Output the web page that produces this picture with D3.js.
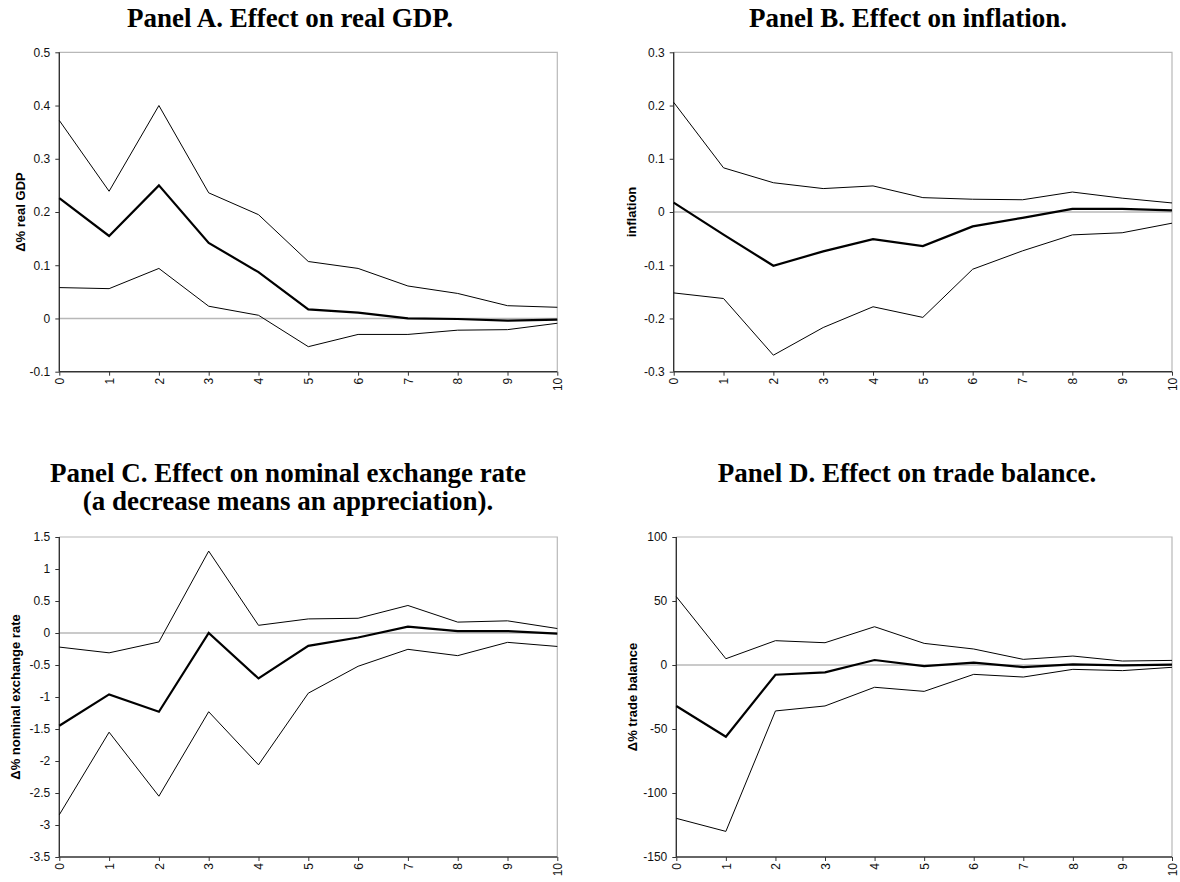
<!DOCTYPE html>
<html>
<head>
<meta charset="utf-8">
<script src="https://cdn.jsdelivr.net/npm/d3@7"></script>
<style>
  html, body { margin: 0; padding: 0; background: #fff; }
  svg { display: block; }
</style>
</head>
<body>
<svg id="chart" width="1180" height="882"></svg>
<script>
// ---- data ----
const horizons = [0, 1, 2, 3, 4, 5, 6, 7, 8, 9, 10];

const gdpUpper = [0.372, 0.239, 0.400, 0.236, 0.195, 0.107, 0.094, 0.061, 0.047, 0.024, 0.021];
const gdpMid   = [0.226, 0.155, 0.250, 0.142, 0.087, 0.017, 0.011, 0.000, -0.001, -0.004, -0.002];
const gdpLower = [0.058, 0.056, 0.094, 0.023, 0.006, -0.053, -0.030, -0.030, -0.022, -0.021, -0.009];
const gdpTicks = [-0.1, 0, 0.1, 0.2, 0.3, 0.4, 0.5];

const infUpper = [0.206, 0.083, 0.055, 0.044, 0.049, 0.027, 0.024, 0.023, 0.0375, 0.026, 0.017];
const infMid   = [0.0175, -0.0425, -0.101, -0.074, -0.051, -0.064, -0.027, -0.011, 0.006, 0.006, 0.003];
const infLower = [-0.152, -0.1625, -0.269, -0.217, -0.178, -0.198, -0.1075, -0.073, -0.043, -0.039, -0.021];
const infTicks = [-0.3, -0.2, -0.1, 0, 0.1, 0.2, 0.3];

const fxUpper = [-0.22, -0.31, -0.14, 1.28, 0.12, 0.22, 0.23, 0.43, 0.17, 0.19, 0.07];
const fxMid   = [-1.45, -0.96, -1.23, 0.0, -0.71, -0.20, -0.07, 0.10, 0.03, 0.03, -0.01];
const fxLower = [-2.84, -1.55, -2.55, -1.23, -2.06, -0.94, -0.52, -0.255, -0.354, -0.146, -0.21];
const fxTicks = [-3.5, -3, -2.5, -2, -1.5, -1, -0.5, 0, 0.5, 1, 1.5];

const tbUpper = [53.4, 4.9, 19.0, 17.4, 29.9, 16.9, 12.5, 4.4, 7.0, 3.1, 3.6];
const tbMid   = [-32.0, -56.0, -7.6, -5.7, 3.9, -0.8, 1.8, -1.6, 0.5, -0.3, 0.3];
const tbLower = [-119.8, -130.0, -35.9, -32.0, -17.4, -20.6, -7.3, -9.4, -3.4, -4.4, -1.8];
const tbTicks = [-150, -100, -50, 0, 50, 100];

const titles = [
  ["Panel A. Effect on real GDP."],
  ["Panel B. Effect on inflation."],
  ["Panel C. Effect on nominal exchange rate", "(a decrease means an appreciation)."],
  ["Panel D. Effect on trade balance."]
];
const yLabels = ["\u0394% real GDP", "inflation", "\u0394% nominal exchange rate", "\u0394% trade balance"];

// ---- layout ----
const panels = [
  { upper: gdpUpper, mid: gdpMid, lower: gdpLower, ticks: gdpTicks,
    box: { x0: 59.3, x1: 557.3, y0: 52.3, y1: 371.7 },
    title: titles[0], titleX: 290, titleY: 27, ylab: yLabels[0], ylabX: 20 },
  { upper: infUpper, mid: infMid, lower: infLower, ticks: infTicks,
    box: { x0: 673.7, x1: 1172, y0: 52.3, y1: 371.7 },
    title: titles[1], titleX: 908, titleY: 27, ylab: yLabels[1], ylabX: 631 },
  { upper: fxUpper, mid: fxMid, lower: fxLower, ticks: fxTicks,
    box: { x0: 59.3, x1: 557.3, y0: 537, y1: 857 },
    title: titles[2], titleX: 288, titleY: 482, ylab: yLabels[2], ylabX: 15 },
  { upper: tbUpper, mid: tbMid, lower: tbLower, ticks: tbTicks,
    box: { x0: 676.3, x1: 1172, y0: 537, y1: 857 },
    title: titles[3], titleX: 907, titleY: 482, ylab: yLabels[3], ylabX: 632 }
];

const svg = d3.select("#chart");

panels.forEach(p => {
  const b = p.box;
  const x = d3.scaleLinear().domain([0, 10]).range([b.x0, b.x1]);
  const y = d3.scaleLinear().domain([d3.min(p.ticks), d3.max(p.ticks)]).range([b.y1, b.y0]);
  const g = svg.append("g");

  // title
  const t = g.append("text")
    .attr("x", p.titleX).attr("y", p.titleY)
    .attr("text-anchor", "middle")
    .style("font-family", "'Liberation Serif', 'Times New Roman', serif")
    .style("font-weight", "bold")
    .style("font-size", "27px")
    .style("fill", "#000");
  p.title.forEach((line, i) => {
    t.append("tspan").attr("x", p.titleX).attr("dy", i === 0 ? 0 : 28).text(line);
  });

  // top and right border (light grey)
  g.append("path")
    .attr("d", `M${b.x0},${b.y0}H${b.x1}V${b.y1}`)
    .attr("fill", "none").attr("stroke", "#b8b8b8").attr("stroke-width", 1.2);

  // zero line
  g.append("line")
    .attr("x1", b.x0).attr("x2", b.x1)
    .attr("y1", y(0)).attr("y2", y(0))
    .attr("stroke", "#b8b8b8").attr("stroke-width", 1.5);

  // axes
  const yAxis = d3.axisLeft(y).tickValues(p.ticks).tickSize(4).tickPadding(5)
    .tickFormat(d => String(d));
  const ya = g.append("g").attr("transform", `translate(${b.x0},0)`).call(yAxis);

  const xAxis = d3.axisBottom(x).tickValues(horizons).tickSize(4).tickPadding(0)
    .tickFormat(d => String(d));
  const xa = g.append("g").attr("transform", `translate(0,${b.y1})`).call(xAxis);
  xa.selectAll(".tick text")
    .attr("transform", "rotate(-90)")
    .attr("text-anchor", "end")
    .attr("x", -6).attr("y", 0).attr("dy", "0.35em");

  [ya, xa].forEach(a => {
    a.select(".domain").attr("stroke", "#333").attr("stroke-width", 1.4);
    a.selectAll(".tick line").attr("stroke", "#333").attr("stroke-width", 1);
    a.selectAll(".tick text")
      .style("font-family", "Arial, 'Liberation Sans', sans-serif")
      .style("font-size", "12px")
      .style("fill", "#111");
  });
  ya.select(".domain").attr("d", `M0,${b.y0}V${b.y1}`);
  xa.select(".domain").attr("d", `M${b.x0},0H${b.x1}`);

  // y label
  g.append("text")
    .attr("transform", `translate(${p.ylabX},${(b.y0 + b.y1) / 2}) rotate(-90)`)
    .attr("text-anchor", "middle")
    .attr("dy", "0.35em")
    .style("font-family", "Arial, 'Liberation Sans', sans-serif")
    .style("font-weight", "bold")
    .style("font-size", "13px")
    .style("fill", "#000")
    .text(p.ylab);

  // lines
  const line = d3.line().x((d, i) => x(horizons[i])).y(d => y(d));
  [[p.upper, 1], [p.lower, 1], [p.mid, 2.2]].forEach(([arr, w]) => {
    g.append("path")
      .datum(arr)
      .attr("d", line)
      .attr("fill", "none")
      .attr("stroke", "#000")
      .attr("stroke-width", w)
      .attr("stroke-linejoin", "miter");
  });
});
</script>
</body>
</html>
